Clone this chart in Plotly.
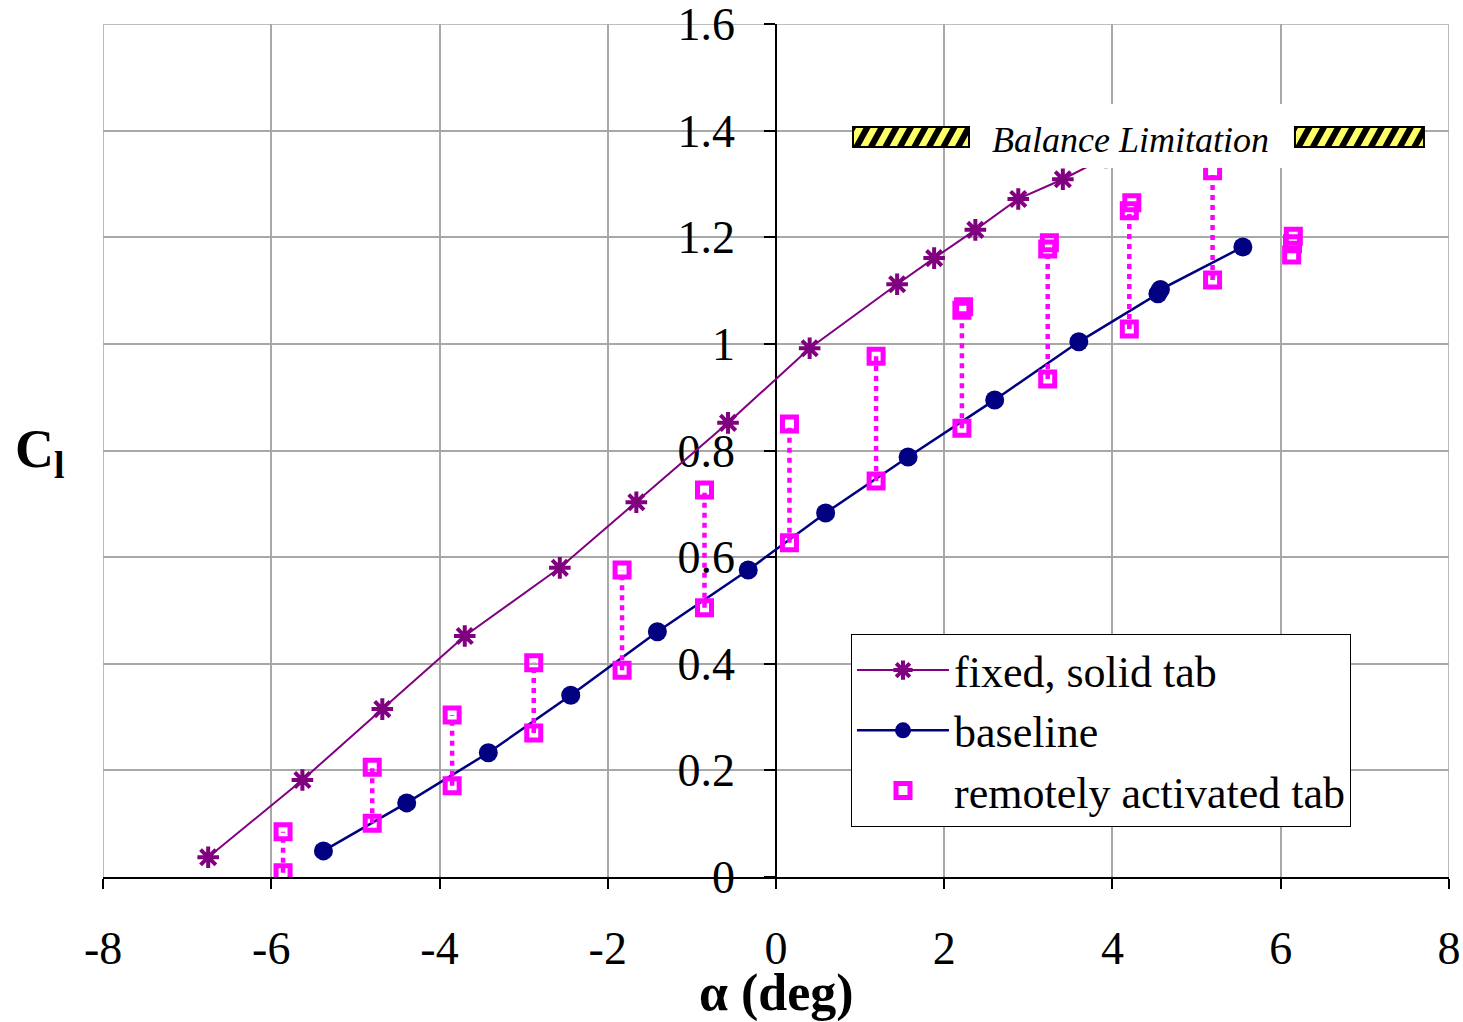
import plotly.graph_objects as go

# ---------------- data ----------------
fixed_alpha = [-6.75, -5.63, -4.68, -3.70, -2.57, -1.66, -0.57, 0.40, 1.44, 1.88, 2.37, 2.88, 3.41, 3.92]
fixed_cl = [0.037, 0.182, 0.315, 0.452, 0.580, 0.703, 0.852, 0.992, 1.112, 1.161, 1.214, 1.272, 1.309, 1.350]

base_alpha = [-5.38, -4.39, -3.42, -2.44, -1.41, -0.33, 0.59, 1.57, 2.60, 3.60, 4.54, 4.57, 5.55]
base_cl = [0.049, 0.139, 0.233, 0.341, 0.460, 0.576, 0.683, 0.788, 0.895, 1.004, 1.094, 1.102, 1.182]

remote_alpha = [-5.86, -4.80, -3.85, -2.88, -1.83, -0.85, 0.16, 1.19, 2.21, 3.23, 4.20, 5.19]
remote_cl_off = [0.008, 0.101, 0.171, 0.270, 0.388, 0.505, 0.627, 0.743, 0.842, 0.934, 1.028, 1.120]
remote_cl_on = [0.085, 0.206, 0.304, 0.402, 0.576, 0.726, 0.850, 0.977, 1.063, 1.178, 1.250, 1.325]
remote_extra_alpha = [2.23, 3.25, 4.23, 6.15, 6.14, 6.13]
remote_extra_cl = [1.070, 1.190, 1.265, 1.202, 1.188, 1.167]

x_tick_vals = [-8, -6, -4, -2, 0, 2, 4, 6, 8]
x_tick_text = ["-8", "-6", "-4", "-2", "0", "2", "4", "6", "8"]
y_tick_vals = [0, 0.2, 0.4, 0.6, 0.8, 1.0, 1.2, 1.4, 1.6]
y_tick_text = ["0", "0.2", "0.4", "0.6", "0.8", "1", "1.2", "1.4", "1.6"]

# ---------------- figure ----------------
FONT = "Liberation Serif"
PURPLE = "#800080"
NAVY = "#000080"
MAGENTA = "#FF00FF"
GRID = "#A8A8A8"

fig = go.Figure()

fig.add_trace(go.Scatter(
    x=fixed_alpha, y=fixed_cl, mode="lines+markers", name="fixed, solid tab",
    line=dict(color=PURPLE, width=2),
    marker=dict(symbol="asterisk-open", size=18, color=PURPLE, line=dict(color=PURPLE, width=4)),
))
fig.add_trace(go.Scatter(
    x=base_alpha, y=base_cl, mode="lines+markers", name="baseline",
    line=dict(color=NAVY, width=2.5),
    marker=dict(symbol="circle", size=19, color=NAVY),
))

# dotted connectors between paired remote-tab points
cx, cy = [], []
for a, lo, hi in zip(remote_alpha, remote_cl_off, remote_cl_on):
    cx += [a, a, None]
    cy += [lo, hi, None]
fig.add_trace(go.Scatter(
    x=cx, y=cy, mode="lines", showlegend=False, hoverinfo="skip",
    line=dict(color=MAGENTA, width=4.5, dash="5px,5px"),
))

rx = remote_alpha + remote_alpha + remote_extra_alpha
ry = remote_cl_off + remote_cl_on + remote_extra_cl
fig.add_trace(go.Scatter(
    x=rx, y=ry, mode="markers", name="remotely activated tab",
    marker=dict(symbol="square-open", size=14, color=MAGENTA, line=dict(color=MAGENTA, width=5)),
))

# ---------------- balance limitation decoration ----------------
def px2x(px):
    return (px - 776.0) / 84.125


def py2y(py):
    return (877.0 - py) / 533.125


def clip_x(poly, xmin, xmax):
    def clip(points, inside, inter):
        out = []
        n = len(points)
        for i in range(n):
            cur = points[i]
            prev = points[i - 1]
            if inside(cur):
                if not inside(prev):
                    out.append(inter(prev, cur))
                out.append(cur)
            elif inside(prev):
                out.append(inter(prev, cur))
        return out

    def inter_at(xv):
        def f(p, q):
            t = (xv - p[0]) / (q[0] - p[0])
            return (xv, p[1] + t * (q[1] - p[1]))
        return f

    poly = clip(poly, lambda p: p[0] >= xmin, inter_at(xmin))
    if not poly:
        return poly
    poly = clip(poly, lambda p: p[0] <= xmax, inter_at(xmax))
    return poly


shapes = []
# outer grey frame lines at x=-8, x=8 and y=1.6 (gridlines on the plot edges)
for xv in (-8, 8):
    shapes.append(dict(type="line", xref="x", yref="y", x0=xv, x1=xv, y0=0, y1=1.6,
                       line=dict(color=GRID, width=1.5), layer="below"))
shapes.append(dict(type="line", xref="x", yref="y", x0=-8, x1=8, y0=1.6, y1=1.6,
                   line=dict(color=GRID, width=1.5), layer="below"))
# white box behind the label
shapes.append(dict(type="rect", xref="x", yref="y", x0=px2x(969), x1=px2x(1295),
                   y0=py2y(168), y1=py2y(104), fillcolor="white", line=dict(width=0), layer="above"))


def hatch_bar(x0p, x1p, ytop, ybot, period=14.5, w=7.0, slant=11.0):
    shapes.append(dict(type="rect", xref="x", yref="y", x0=px2x(x0p), x1=px2x(x1p),
                       y0=py2y(ybot), y1=py2y(ytop), fillcolor="#FFFF66",
                       line=dict(width=0), layer="above"))
    path = ""
    k = -3
    while x0p + k * period < x1p + 1:
        bl = x0p + k * period
        poly = [(bl, ybot), (bl + w, ybot), (bl + w + slant, ytop), (bl + slant, ytop)]
        poly = clip_x(poly, x0p, x1p)
        if len(poly) >= 3:
            path += "M " + " L ".join(f"{px2x(p[0]):.5f},{py2y(p[1]):.5f}" for p in poly) + " Z "
        k += 1
    shapes.append(dict(type="path", xref="x", yref="y", path=path, fillcolor="black",
                       line=dict(width=0), layer="above"))
    shapes.append(dict(type="rect", xref="x", yref="y", x0=px2x(x0p), x1=px2x(x1p),
                       y0=py2y(ybot), y1=py2y(ytop), fillcolor="rgba(0,0,0,0)",
                       line=dict(color="black", width=2), layer="above"))


hatch_bar(853, 969, 127, 147)
hatch_bar(1295, 1424, 127, 147)

annotations = [
    dict(text="<i>Balance Limitation</i>", x=px2x(1131), y=py2y(140), xref="x", yref="y",
         showarrow=False, font=dict(family=FONT, size=36, color="black"),
         xanchor="center", yanchor="middle"),
    dict(text="<b>C<sub>l</sub></b>", x=(40 - 103) / 1346, y=(877 - 452) / 853,
         xref="paper", yref="paper", showarrow=False,
         font=dict(family=FONT, size=54, color="black"), xanchor="center", yanchor="middle"),
    dict(text="<b>α (deg)</b>", x=0.5, y=(877 - 993) / 853,
         xref="paper", yref="paper", showarrow=False,
         font=dict(family=FONT, size=52, color="black"), xanchor="center", yanchor="middle"),
]

fig.update_layout(
    width=1463, height=1022,
    margin=dict(l=103, r=14, t=24, b=145),
    paper_bgcolor="white", plot_bgcolor="white",
    font=dict(family=FONT, size=44, color="black"),
    showlegend=True,
    legend=dict(x=(851 - 103) / 1346, y=(877 - 634) / 853, xanchor="left", yanchor="top",
                bordercolor="black", borderwidth=1, bgcolor="white", itemwidth=92,
                font=dict(family=FONT, size=44, color="black")),
    shapes=shapes,
    annotations=annotations,
    xaxis=dict(range=[-8.0005, 8.0005], tickvals=x_tick_vals, ticktext=x_tick_text,
               showgrid=True, gridcolor=GRID, gridwidth=1.5, zeroline=False,
               showline=True, linecolor="black", linewidth=1.5,
               ticks="outside", ticklen=10, tickcolor="black", tickwidth=1.5,
               tickfont=dict(family=FONT, size=46), ticklabelstandoff=20,
               ticklabeloverflow="allow", automargin=False, layer="below traces"),
    yaxis=dict(range=[0, 1.6002], tickvals=y_tick_vals, ticktext=y_tick_text,
               anchor="free", position=0.5,
               showgrid=True, gridcolor=GRID, gridwidth=1.5, zeroline=False,
               showline=True, linecolor="black", linewidth=1.5,
               ticks="outside", ticklen=11, tickcolor="black", tickwidth=1.5,
               tickfont=dict(family=FONT, size=46), ticklabelstandoff=20,
               ticklabeloverflow="allow", automargin=False, layer="below traces"),
)

fig.write_html("out.html", config={"displayModeBar": False},
               post_script="document.body.style.margin='0';document.body.style.overflow='hidden';")
